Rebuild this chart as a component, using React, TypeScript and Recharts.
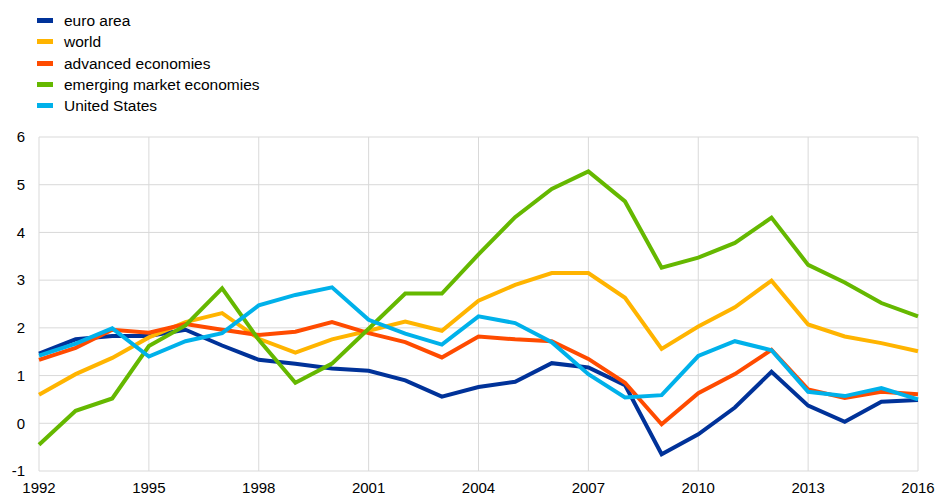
import React from "react";
import { LineChart, Line, XAxis, YAxis, CartesianGrid } from "recharts";

const years = [1992,1993,1994,1995,1996,1997,1998,1999,2000,2001,2002,2003,2004,2005,2006,2007,2008,2009,2010,2011,2012,2013,2014,2015,2016];
const euroArea = [1.46,1.76,1.83,1.83,1.96,1.63,1.33,1.25,1.15,1.10,0.90,0.56,0.76,0.87,1.26,1.17,0.80,-0.65,-0.23,0.33,1.08,0.37,0.03,0.45,0.49];
const world = [0.60,1.03,1.37,1.80,2.12,2.31,1.77,1.48,1.76,1.94,2.13,1.94,2.57,2.90,3.15,3.15,2.63,1.56,2.03,2.43,2.99,2.07,1.82,1.68,1.51];
const advanced = [1.33,1.58,1.96,1.90,2.08,1.96,1.85,1.92,2.12,1.89,1.70,1.38,1.82,1.76,1.72,1.35,0.85,-0.02,0.63,1.03,1.54,0.71,0.53,0.66,0.61];
const emerging = [-0.45,0.26,0.52,1.62,2.05,2.83,1.75,0.85,1.25,1.98,2.72,2.72,3.54,4.32,4.91,5.28,4.65,3.26,3.47,3.78,4.31,3.32,2.95,2.52,2.24];
const unitedStates = [1.42,1.67,1.99,1.40,1.72,1.89,2.47,2.69,2.85,2.17,1.88,1.65,2.24,2.10,1.70,1.03,0.54,0.59,1.41,1.72,1.53,0.66,0.57,0.74,0.50];
const xTicks = [1992,1995,1998,2001,2004,2007,2010,2013,2016];
const yTicks = [-1,0,1,2,3,4,5,6];

const series = [
  { key: "euro", name: "euro area", color: "#003299", values: euroArea },
  { key: "world", name: "world", color: "#FFB400", values: world },
  { key: "adv", name: "advanced economies", color: "#FF4B00", values: advanced },
  { key: "em", name: "emerging market economies", color: "#65B800", values: emerging },
  { key: "us", name: "United States", color: "#00B1EA", values: unitedStates },
];

const data = years.map((y, i) => {
  const row: Record<string, number> = { year: y };
  series.forEach((s) => { row[s.key] = s.values[i]; });
  return row;
});

const font = "'Liberation Sans', Arial, sans-serif";

export default function App() {
  return (
    <div style={{ position: "absolute", left: 0, top: 0, width: 938, height: 496, background: "#fff", fontFamily: font }}>
      <div style={{ position: "absolute", left: 37, top: 10 }}>
        {series.map((s) => (
          <div key={s.key} style={{ display: "flex", alignItems: "center", height: 21.3 }}>
            <div style={{ width: 16, height: 5, background: s.color, marginRight: 11 }} />
            <span style={{ fontSize: 15.5, color: "#000", lineHeight: "21px" }}>{s.name}</span>
          </div>
        ))}
      </div>
      <LineChart
        width={938}
        height={496}
        data={data}
        margin={{ top: 137, right: 20, left: 0, bottom: 0 }}
        style={{ position: "absolute", left: 0, top: 0 }}
      >
        <CartesianGrid stroke="#d9d9d9" strokeWidth={1} />
        <XAxis
          dataKey="year"
          type="number"
          domain={[1992, 2016]}
          ticks={xTicks}
          axisLine={false}
          tickLine={false}
          tickMargin={5}
          height={25}
          interval={0}
          tick={{ fontSize: 15, fill: "#000", fontFamily: font }}
        />
        <YAxis
          domain={[-1, 6]}
          ticks={yTicks}
          axisLine={false}
          tickLine={false}
          tickMargin={8}
          width={39}
          interval={0}
          tick={{ fontSize: 15, fill: "#000", fontFamily: font }}
        />
        {series.map((s) => (
          <Line
            key={s.key}
            dataKey={s.key}
            name={s.name}
            stroke={s.color}
            strokeWidth={4}
            dot={false}
            activeDot={false}
            isAnimationActive={false}
            strokeLinejoin="miter"
          />
        ))}
      </LineChart>
    </div>
  );
}
